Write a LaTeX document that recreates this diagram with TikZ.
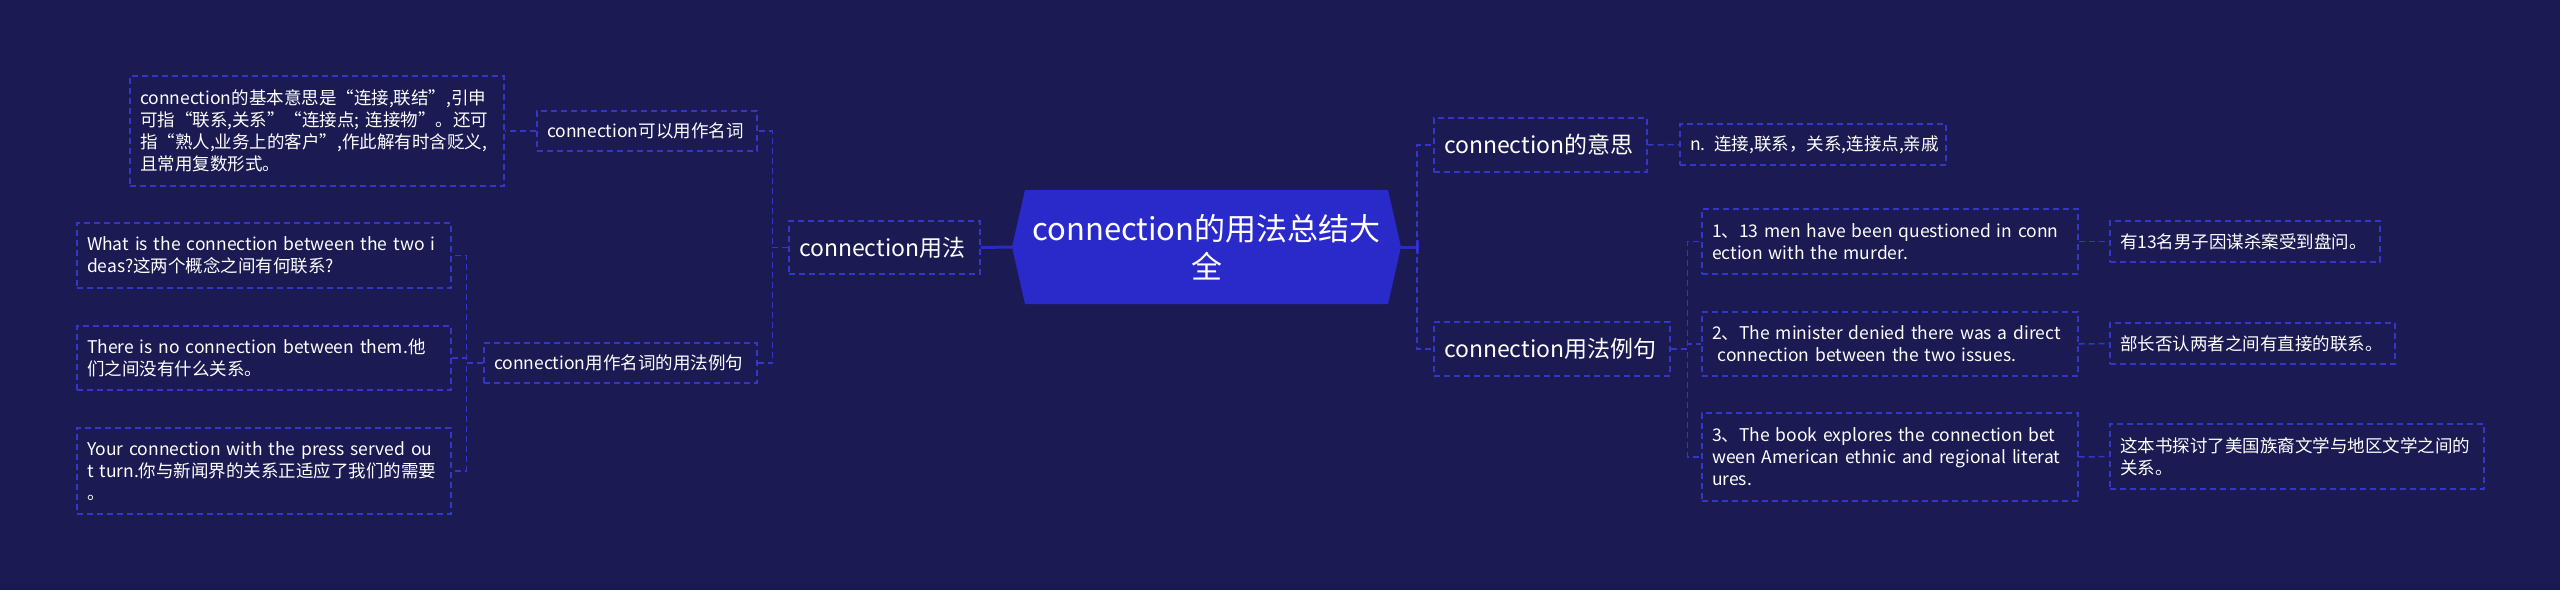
\documentclass[tikz,border=0pt]{standalone}
\usepackage{fontspec}
\usepackage{xcolor}
\setmainfont{Noto Sans CJK SC}
\definecolor{bgc}{HTML}{1B1A52}
\definecolor{rootc}{HTML}{2A2ACB}
\definecolor{boxc}{HTML}{3535C8}
\tikzset{
    leaf/.style={draw=boxc, dash pattern=on 6pt off 4pt, line width=1.3pt, text=white,
        align=left, inner xsep=10pt, inner ysep=0pt},
    small/.style={font=\fontsize{17.5}{22}\selectfont},
    mid/.style={font=\fontsize{23}{28}\selectfont},
    link/.style={draw=boxc, dash pattern=on 6pt off 4pt, line width=1.5pt},
    rootlink/.style={draw=rootc, line width=3pt},
    root/.style={minimum width=389pt, minimum height=114pt, inner sep=0pt, text=white,
        align=center, font=\fontsize{31}{38}\selectfont,
        path picture={\fill[rootc] ([xshift=13pt]path picture bounding box.north west)
            -- ([xshift=-13pt]path picture bounding box.north east)
            -- (path picture bounding box.east)
            -- ([xshift=-13pt]path picture bounding box.south east)
            -- ([xshift=13pt]path picture bounding box.south west)
            -- (path picture bounding box.west) -- cycle;}}
}
\newcommand{\fan}[3]{
\foreach \c in {#3} \draw[link] (#1) -- ++(#2,0) |- (\c);
}
\begin{document}
\begin{tikzpicture}[x=1pt,y=-1pt]
    \useasboundingbox (0,0) rectangle (2560,590);
    \fill[bgc] (0,0) rectangle (2560,590);
    \node[root] (root) at (1206.5,247) {connection的用法总结大\\全};

    \node[leaf,mid,text width=171pt,minimum height=53pt] (use) at (884.5,247.5) {connection用法};
    \node[leaf,small,text width=200pt,minimum height=40pt] (noun) at (647,131) {connection可以用作名词};
    \node[leaf,small,text width=354pt,minimum height=110pt] (basic) at (317,131) {connection的基本意思是“连接,联结”,引申\\可指“联系,关系”“连接点; 连接物”。还可\\指“熟人,业务上的客户”,作此解有时含贬义,\\且常用复数形式。};
    \node[leaf,small,text width=253pt,minimum height=40pt] (usage) at (620.5,363) {connection用作名词的用法例句};
    \node[leaf,small,text width=354pt,minimum height=65pt] (exA) at (264,255.5) {What is the connection between the two i\\deas?这两个概念之间有何联系?};
    \node[leaf,small,text width=354pt,minimum height=64pt] (exB) at (264,358) {There is no connection between them.他\\们之间没有什么关系。};
    \node[leaf,small,text width=354pt,minimum height=86pt] (exC) at (264,471) {Your connection with the press served ou\\t turn.你与新闻界的关系正适应了我们的需要\\。};

    \node[leaf,mid,text width=193pt,minimum height=54pt] (mean) at (1540.5,145) {connection的意思};
    \node[leaf,small,text width=246pt,minimum height=41pt] (def) at (1813,144.5) {\mbox{n. 连接,联系，关系,连接点,亲戚}};
    \node[leaf,mid,text width=216pt,minimum height=54pt] (sent) at (1552,349) {connection用法例句};
    \node[leaf,small,text width=356pt,minimum height=65pt] (s1) at (1890,241.5) {1、13 men have been questioned in conn\\ection with the murder.};
    \node[leaf,small,text width=356pt,minimum height=64pt] (s2) at (1890,344) {2、The minister denied there was a direct\\\ connection between the two issues.};
    \node[leaf,small,text width=356pt,minimum height=88pt] (s3) at (1890,457) {3、The book explores the connection bet\\ween American ethnic and regional literat\\ures.};
    \node[leaf,small,text width=250pt,minimum height=41pt] (t1) at (2245,241.5) {有13名男子因谋杀案受到盘问。};
    \node[leaf,small,text width=265pt,minimum height=41pt] (t2) at (2252.5,343.5) {部长否认两者之间有直接的联系。};
    \node[leaf,small,text width=354pt,minimum height=65pt] (t3) at (2297,456.5) {这本书探讨了美国族裔文学与地区文学之间的\\关系。};

    \draw[rootlink] (root.west) -- (use.east);
    \draw[rootlink] (root.east) -- ++(16,0) coordinate (rj);
    \draw[rootlink] ([yshift=7pt]rj) -- ([yshift=-7pt]rj);
    \foreach \c in {mean,sent} \draw[link] (rj) |- (\c.west);
    \fan{use.west}{-16}{noun.east,usage.east}
    \draw[link] (noun.west) -- (basic.east);
    \fan{usage.west}{-17}{exA.east,exB.east,exC.east}
    \draw[link] (mean.east) -- (def.west);
    \fan{sent.east}{17}{s1.west,s2.west,s3.west}
    \foreach \a/\b in {s1/t1,s2/t2,s3/t3} \draw[link] (\a.east) -- (\b.west);
\end{tikzpicture}
\end{document}
